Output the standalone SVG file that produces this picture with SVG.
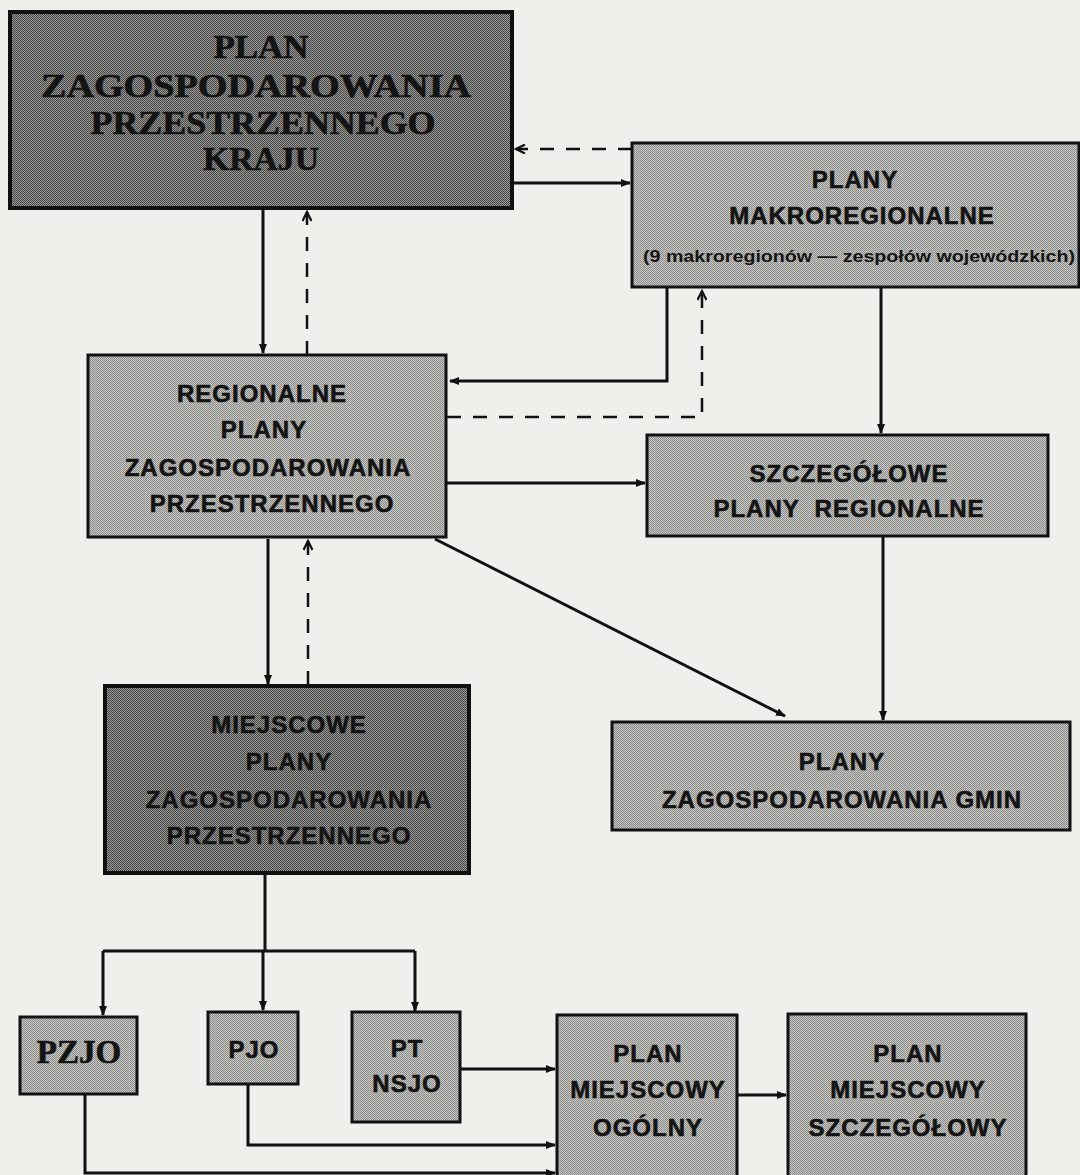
<svg xmlns="http://www.w3.org/2000/svg" width="1080" height="1175" viewBox="0 0 1080 1175">
  <defs>
    <!-- halftone screens used for the box fills -->
    <pattern id="screenLight" patternUnits="userSpaceOnUse" width="2" height="2">
      <rect width="2" height="2" fill="#c9c9c6"/>
      <rect width="1" height="1" fill="#8a8a88"/>
      <rect x="1" y="1" width="1" height="1" fill="#8a8a88"/>
    </pattern>
    <pattern id="screenDark" patternUnits="userSpaceOnUse" width="2" height="2">
      <rect width="2" height="2" fill="#9a9a98"/>
      <rect width="1" height="1" fill="#454545"/>
      <rect x="1" y="1" width="1" height="1" fill="#454545"/>
    </pattern>
    <marker id="tip" markerWidth="10" markerHeight="8" refX="9" refY="4" orient="auto" markerUnits="userSpaceOnUse">
      <path d="M0,0 L10,4 L0,8 z" fill="#111"/>
    </marker>
    <marker id="vee" markerWidth="12" markerHeight="10" refX="10" refY="5" orient="auto" markerUnits="userSpaceOnUse">
      <path d="M1,0.5 L10,5 L1,9.5" fill="none" stroke="#111" stroke-width="2.2"/>
    </marker>
    <style>
      .light { fill: url(#screenLight); stroke: #111; stroke-width: 3; }
      .dark { fill: url(#screenDark); stroke: #111; stroke-width: 4; }
      .sans { font-family: "Liberation Sans", Arial, Helvetica, sans-serif; font-weight: bold; font-size: 24px; letter-spacing: 1px; fill: #141414; stroke: #141414; stroke-width: 0.6; text-anchor: middle; }
      .small { font-family: "Liberation Sans", Arial, Helvetica, sans-serif; font-weight: bold; font-size: 16px; fill: #141414; text-anchor: middle; }
      .serif { font-family: "Liberation Serif", "Times New Roman", serif; font-weight: bold; font-size: 33px; fill: #141414; stroke: #141414; stroke-width: 0.7; text-anchor: middle; }
      .solid { fill: none; stroke: #111; stroke-width: 3; marker-end: url(#tip); }
      .plain { fill: none; stroke: #111; stroke-width: 3; }
      .dash { fill: none; stroke: #111; stroke-width: 2.5; stroke-dasharray: 14 12; marker-end: url(#vee); }
    </style>
  </defs>

  <rect width="1080" height="1175" fill="#efefec"/>

  <!-- connectors -->
  <g id="connectors">
    <path class="solid" d="M263,209 V353"/>
    <path class="dash" d="M307,355 V212"/>
    <path class="solid" d="M512,183 H630"/>
    <path class="dash" d="M632,149 H516"/>
    <path class="solid" d="M667,288 V381 H450"/>
    <path class="dash" d="M447,417 H702 V291"/>
    <path class="solid" d="M881,288 V433"/>
    <path class="solid" d="M447,483 H645"/>
    <path class="solid" d="M435,539 L785,716"/>
    <path class="solid" d="M883,537 V720"/>
    <path class="solid" d="M268,539 V684"/>
    <path class="dash" d="M308,685 V541"/>
    <path class="plain" d="M265,874 V951"/>
    <path class="plain" d="M103,951 H415"/>
    <path class="solid" d="M103,951 V1015"/>
    <path class="solid" d="M263,951 V1010"/>
    <path class="solid" d="M415,951 V1011"/>
    <path class="solid" d="M460,1069 H555"/>
    <path class="solid" d="M248,1085 V1145 H555"/>
    <path class="solid" d="M85,1094 V1173 H555"/>
    <path class="solid" d="M737,1095 H786"/>
  </g>

  <!-- national plan -->
  <g id="plan-kraju">
    <rect class="dark" x="10" y="12" width="502" height="196"/>
    <text class="serif" x="261" y="58" textLength="95" lengthAdjust="spacingAndGlyphs">PLAN</text>
    <text class="serif" x="256" y="97" textLength="430" lengthAdjust="spacingAndGlyphs">ZAGOSPODAROWANIA</text>
    <text class="serif" x="263" y="134" textLength="345" lengthAdjust="spacingAndGlyphs">PRZESTRZENNEGO</text>
    <text class="serif" x="261" y="170" textLength="116" lengthAdjust="spacingAndGlyphs">KRAJU</text>
  </g>

  <!-- macroregional plans -->
  <g id="plany-makroregionalne">
    <rect class="light" x="632" y="143" width="447" height="144"/>
    <text class="sans" x="855" y="188">PLANY</text>
    <text class="sans" x="862" y="224">MAKROREGIONALNE</text>
    <text class="small" x="859" y="262" textLength="432" lengthAdjust="spacingAndGlyphs">(9 makroregionów — zespołów wojewódzkich)</text>
  </g>

  <!-- regional plans -->
  <g id="regionalne-plany">
    <rect class="light" x="88" y="355" width="358" height="182"/>
    <text class="sans" x="262" y="402">REGIONALNE</text>
    <text class="sans" x="264" y="438">PLANY</text>
    <text class="sans" x="268" y="476">ZAGOSPODAROWANIA</text>
    <text class="sans" x="272" y="512">PRZESTRZENNEGO</text>
  </g>

  <!-- detailed regional plans -->
  <g id="szczegolowe-plany">
    <rect class="light" x="647" y="435" width="401" height="101"/>
    <text class="sans" x="849" y="482">SZCZEGÓŁOWE</text>
    <text class="sans" x="849" y="517" xml:space="preserve">PLANY  REGIONALNE</text>
  </g>

  <!-- local plans -->
  <g id="miejscowe-plany">
    <rect class="dark" x="105" y="686" width="364" height="187"/>
    <text class="sans" x="289" y="733">MIEJSCOWE</text>
    <text class="sans" x="289" y="770">PLANY</text>
    <text class="sans" x="289" y="808">ZAGOSPODAROWANIA</text>
    <text class="sans" x="289" y="844">PRZESTRZENNEGO</text>
  </g>

  <!-- municipal plans -->
  <g id="plany-gmin">
    <rect class="light" x="612" y="722" width="458" height="108"/>
    <text class="sans" x="842" y="770">PLANY</text>
    <text class="sans" x="842" y="808">ZAGOSPODAROWANIA GMIN</text>
  </g>

  <g id="pzjo">
    <rect class="light" x="20" y="1017" width="117" height="77"/>
    <text class="serif" x="79" y="1063">PZJO</text>
  </g>

  <g id="pjo">
    <rect class="light" x="208" y="1012" width="90" height="72"/>
    <text class="sans" x="254" y="1058">PJO</text>
  </g>

  <g id="pt-nsjo">
    <rect class="light" x="352" y="1012" width="108" height="110"/>
    <text class="sans" x="407" y="1057">PT</text>
    <text class="sans" x="407" y="1092">NSJO</text>
  </g>

  <g id="plan-ogolny">
    <rect class="light" x="557" y="1015" width="180" height="170"/>
    <text class="sans" x="648" y="1062">PLAN</text>
    <text class="sans" x="648" y="1098">MIEJSCOWY</text>
    <text class="sans" x="648" y="1136">OGÓLNY</text>
  </g>

  <g id="plan-szczegolowy">
    <rect class="light" x="788" y="1014" width="238" height="171"/>
    <text class="sans" x="908" y="1062">PLAN</text>
    <text class="sans" x="908" y="1098">MIEJSCOWY</text>
    <text class="sans" x="908" y="1136">SZCZEGÓŁOWY</text>
  </g>
</svg>
